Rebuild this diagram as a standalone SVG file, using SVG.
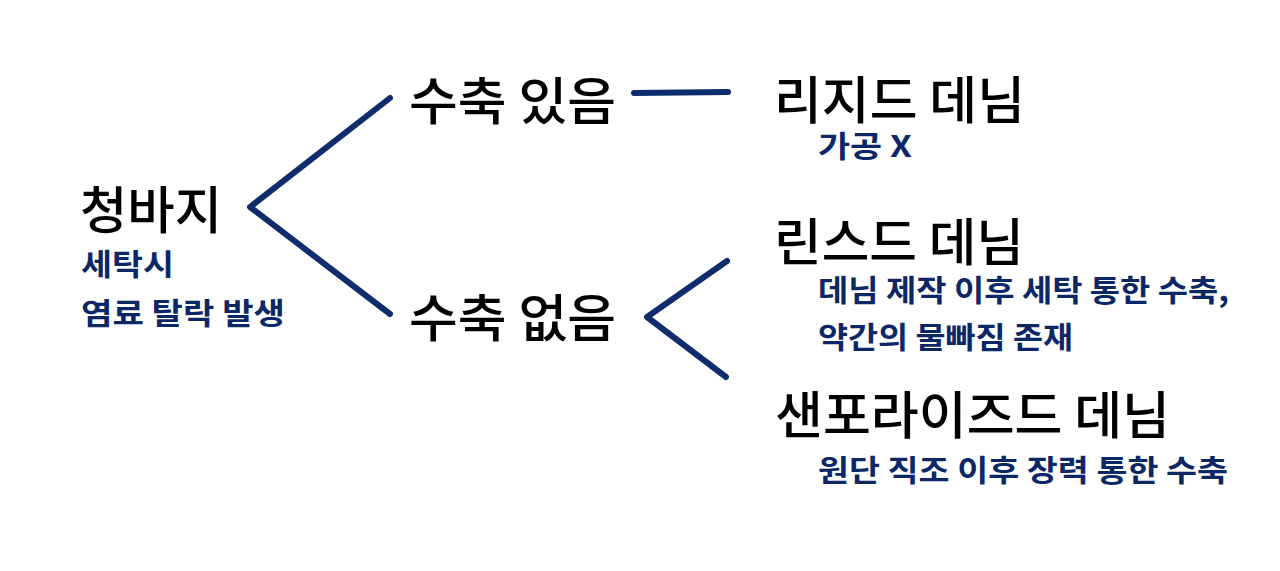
<svg xmlns="http://www.w3.org/2000/svg" width="1280" height="571" viewBox="0 0 1280 571">
<style>
.t{font-family:"Noto Sans CJK KR","Noto Sans CJK SC",sans-serif;fill:#000;font-size:51px;font-weight:500}
.s{font-family:"Noto Sans CJK KR","Noto Sans CJK SC",sans-serif;fill:#0c2766;font-size:30px;font-weight:700}
.c{fill:none;stroke:#0f2c6c;stroke-width:6;stroke-linecap:round;stroke-linejoin:round}
</style>
<rect width="1280" height="571" fill="#fff"/>
<g id="connectors">
<polyline class="c" points="390,98 250,207 390,314"/>
<line class="c" x1="634" y1="93" x2="728" y2="92"/>
<polyline class="c" points="727,261 647,317 726,377"/>
</g>
<g id="node-jeans">
<text class="t" x="80" y="229" textLength="142" lengthAdjust="spacingAndGlyphs">청바지</text>
<text class="s" x="81" y="275" textLength="93" lengthAdjust="spacingAndGlyphs">세탁시</text>
<text class="s" x="81" y="324" textLength="204" lengthAdjust="spacingAndGlyphs">염료 탈락 발생</text>
</g>
<g id="node-shrink-yes">
<text class="t" x="409" y="120" textLength="207" lengthAdjust="spacingAndGlyphs">수축 있음</text>
</g>
<g id="node-shrink-no">
<text class="t" x="409" y="337" textLength="207" lengthAdjust="spacingAndGlyphs">수축 없음</text>
</g>
<g id="node-rigid">
<text class="t" x="774" y="119" textLength="251" lengthAdjust="spacingAndGlyphs">리지드 데님</text>
<text class="s" x="818" y="157" textLength="94" lengthAdjust="spacingAndGlyphs">가공 X</text>
</g>
<g id="node-rinsed">
<text class="t" x="774" y="261" textLength="250" lengthAdjust="spacingAndGlyphs">린스드 데님</text>
<text class="s" x="818" y="301" textLength="411" lengthAdjust="spacingAndGlyphs">데님 제작 이후 세탁 통한 수축,</text>
<text class="s" x="818" y="348" textLength="255" lengthAdjust="spacingAndGlyphs">약간의 물빠짐 존재</text>
</g>
<g id="node-sanforized">
<text class="t" x="775" y="434" textLength="395" lengthAdjust="spacingAndGlyphs">샌포라이즈드 데님</text>
<text class="s" x="818" y="481" textLength="410" lengthAdjust="spacingAndGlyphs">원단 직조 이후 장력 통한 수축</text>
</g>
</svg>
